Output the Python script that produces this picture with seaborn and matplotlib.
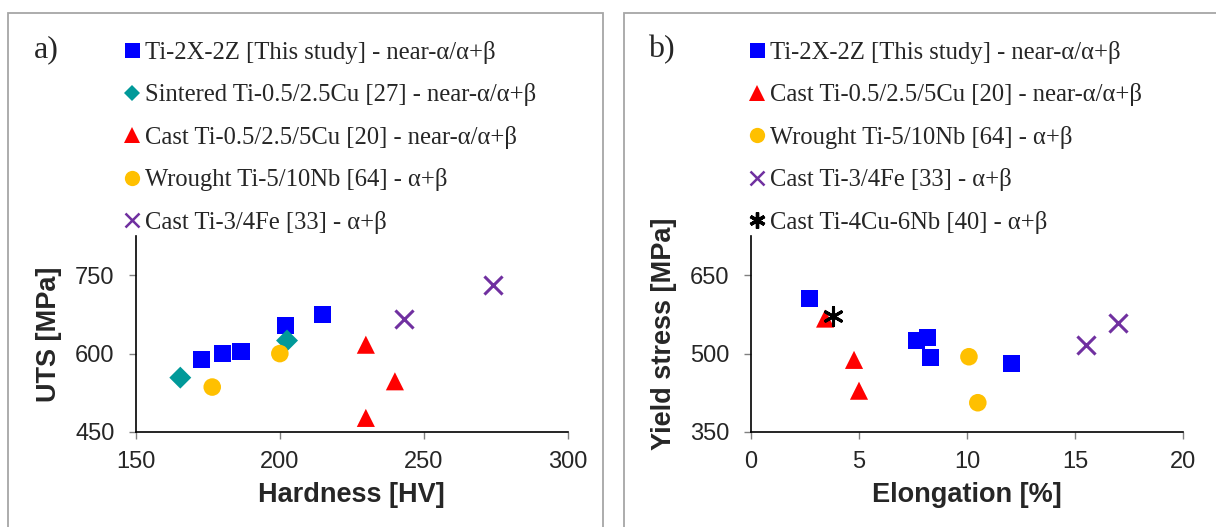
import matplotlib
matplotlib.use("Agg")
import matplotlib.pyplot as plt
import seaborn as sns
import pandas as pd
from matplotlib.lines import Line2D
from matplotlib.patches import Rectangle

sns.set_theme(style="white")
plt.rcParams['font.family'] = ['Liberation Sans', 'DejaVu Sans']

# ---------------- data: panel a (Hardness vs UTS) ----------------
a_labels = ["Ti-2X-2Z [This study] - near-α/α+β",
            "Sintered Ti-0.5/2.5Cu [27] - near-α/α+β",
            "Cast Ti-0.5/2.5/5Cu [20] - near-α/α+β",
            "Wrought Ti-5/10Nb [64] - α+β",
            "Cast Ti-3/4Fe [33] - α+β"]
a_this_hv = [172.8, 180.2, 186.5, 202.0, 214.8]
a_this_uts = [589, 600, 604, 653, 675]
a_sint_hv = [165.4, 202.5]
a_sint_uts = [554, 625]
a_cast_cu_hv = [229.9, 240.0, 229.9]
a_cast_cu_uts = [617, 547, 477]
a_nb_hv = [176.5, 200.0]
a_nb_uts = [536, 600]
a_fe_hv = [243.0, 274.0]
a_fe_uts = [666, 731]

# ---------------- data: panel b (Elongation vs Yield stress) ----------------
b_labels = ["Ti-2X-2Z [This study] - near-α/α+β",
            "Cast Ti-0.5/2.5/5Cu [20] - near-α/α+β",
            "Wrought Ti-5/10Nb [64] - α+β",
            "Cast Ti-3/4Fe [33] - α+β",
            "Cast Ti-4Cu-6Nb [40] - α+β"]
b_this_el = [2.73, 7.64, 8.18, 8.33, 12.04]
b_this_ys = [605, 525, 531, 492, 482]
b_cast_cu_el = [3.43, 4.77, 5.0]
b_cast_cu_ys = [567, 488, 429]
b_nb_el = [10.09, 10.5]
b_nb_ys = [494, 406]
b_fe_el = [15.5, 17.0]
b_fe_ys = [516, 558]
b_cunb_el = [3.78]
b_cunb_ys = [572]

BLUE = "#0000FF"
TEAL = "#009999"
RED = "#FF0000"
YEL = "#FFC000"
PUR = "#7030A0"
BLK = "#000000"

fig = plt.figure(figsize=(12.16, 5.27), dpi=100)
fig.patch.set_facecolor("white")

W, H = 1216, 527
axA = fig.add_axes([136 / W, 1 - 432 / H, (567.5 - 136) / W, (432 - 236) / H])
axB = fig.add_axes([751 / W, 1 - 432 / H, (1183 - 751) / W, (432 - 236) / H])

# styles: (marker, color, size, linewidth)
sty = {
    "sq": ("s", BLUE, 150, 0),
    "di": ("D", TEAL, 125, 0),
    "tr": ("^", RED, 170, 0),
    "ci": ("o", YEL, 160, 0),
    "x": ("x", PUR, 170, 2.2),
    "ast": ((6, 2, 0), BLK, 170, 2.2),
}


def draw(ax, xs, ys, key):
    m, c, s, lw = sty[key]
    df = pd.DataFrame({"x": xs, "y": ys})
    sns.scatterplot(data=df, x="x", y="y", ax=ax, marker=m, color=c, s=s,
                    linewidth=lw, edgecolor=(c if lw else "none"),
                    legend=False, zorder=3)


draw(axA, a_this_hv, a_this_uts, "sq")
draw(axA, a_sint_hv, a_sint_uts, "di")
draw(axA, a_cast_cu_hv, a_cast_cu_uts, "tr")
draw(axA, a_nb_hv, a_nb_uts, "ci")
draw(axA, a_fe_hv, a_fe_uts, "x")

draw(axB, b_this_el, b_this_ys, "sq")
draw(axB, b_cast_cu_el, b_cast_cu_ys, "tr")
draw(axB, b_nb_el, b_nb_ys, "ci")
draw(axB, b_fe_el, b_fe_ys, "x")
draw(axB, b_cunb_el, b_cunb_ys, "ast")

tick_font = 17
lab_font = 19.5

axA.set_xlim(150, 300)
axA.set_ylim(450, 825)
axA.set_xticks([150, 200, 250, 300])
axA.set_yticks([450, 600, 750])
axA.set_xlabel("Hardness [HV]", fontsize=lab_font, fontweight="bold", labelpad=7)
axA.set_ylabel("UTS [MPa]", fontsize=lab_font, fontweight="bold", labelpad=9)

axB.set_xlim(0, 20)
axB.set_ylim(350, 725)
axB.set_xticks([0, 5, 10, 15, 20])
axB.set_yticks([350, 500, 650])
axB.set_xlabel("Elongation [%]", fontsize=lab_font, fontweight="bold", labelpad=7)
axB.set_ylabel("Yield stress [MPa]", fontsize=lab_font, fontweight="bold", labelpad=9)

for ax in (axA, axB):
    ax.set_facecolor("white")
    for sp in ("top", "right"):
        ax.spines[sp].set_visible(False)
    for sp in ("left", "bottom"):
        ax.spines[sp].set_color("black")
        ax.spines[sp].set_linewidth(1.2)
    ax.tick_params(axis="both", which="major", direction="out", length=5,
                   width=1, color="#808080", labelsize=tick_font,
                   left=True, bottom=True)
    ax.tick_params(axis="x", pad=8.5)
    ax.tick_params(axis="y", pad=10.5)
    ax.grid(False)


def handle(key, ms, mew=0):
    m, c, s, lw = sty[key]
    return Line2D([], [], linestyle="none", marker=m, color=c,
                  markerfacecolor=c, markeredgecolor=c, markersize=ms,
                  markeredgewidth=mew)


serif = {"family": ["Liberation Serif", "DejaVu Serif"], "size": 17.7}

hA = [handle("sq", 10.8), handle("di", 8.5), handle("tr", 11.5),
      handle("ci", 11), handle("x", 10, 1.8)]
hB = [handle("sq", 10.8), handle("tr", 11.5), handle("ci", 11),
      handle("x", 10, 1.8), handle("ast", 11.5, 2.4)]

leg_kw = dict(loc="upper left", frameon=False, prop=serif, handlelength=0.6,
              handletextpad=0.23, labelspacing=0.79, borderaxespad=0, borderpad=0)
fig.legend(hA, a_labels, bbox_to_anchor=(124.5 / W, 1 - 41 / H), **leg_kw)
fig.legend(hB, b_labels, bbox_to_anchor=(749.5 / W, 1 - 41 / H), **leg_kw)

fig.text(34 / W, 1 - 50 / H, "a)", fontsize=23, va="center", ha="left",
         family=["Liberation Serif", "DejaVu Serif"])
fig.text(648 / W, 1 - 50 / H, "b)", fontsize=23, va="center", ha="left",
         family=["Liberation Serif", "DejaVu Serif"])

# panel frames
fig.add_artist(Rectangle((8 / W, -0.1), (603 - 8) / W, (1 - 12.5 / H) + 0.1,
                         transform=fig.transFigure, fill=False,
                         edgecolor="#A6A6A6", linewidth=1.3))
fig.add_artist(Rectangle((624 / W, -0.1), 0.5, (1 - 12.5 / H) + 0.1,
                         transform=fig.transFigure, fill=False,
                         edgecolor="#A6A6A6", linewidth=1.3))

fig.savefig("out.png", dpi=100, facecolor="white")
